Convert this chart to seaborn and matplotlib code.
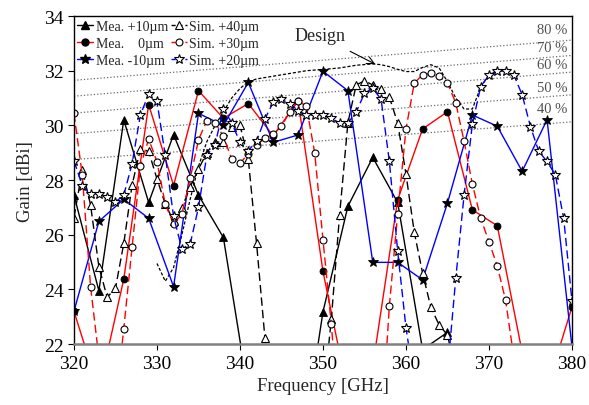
import numpy as np
import pandas as pd
import seaborn as sns
import matplotlib.pyplot as plt

nan = np.nan

# measured, 3 GHz steps
mea_freq = list(range(320, 381, 3))
mea_p10 = [27.45, 23.95, 30.2, 27.18, 29.66, 27.45, 25.9, 20.25, 18.5, 17.2, 23.18,
           27.04, 28.83, 27.18, 21.8, 22.43, nan, nan, nan, nan, nan]
mea_0 = [23.2, 20.3, 24.38, 30.76, 27.8, 31.27, 30.26, 30.8, 29.62, 30.9, 24.66,
         20.2, 21.2, 27.28, 29.87, 30.5, 26.91, 26.33, 21.7, 20.4, 23.36]
mea_m10 = [23.2, 26.49, 27.3, 26.6, 24.1, 30.44, 30.0, 31.57, 29.38, 29.65, 31.98,
           31.27, 24.99, 24.99, 24.35, 27.16, 30.38, 29.97, 28.32, 30.21, 21.9]

# simulated, 1 GHz steps
sim_freq = list(range(320, 381))
sim_p40 = [26.63, 28.37, 27.09, 24.83, 23.71, 24.05, 25.68, 27.82, 29.13, 29.05,
           28.04, 27.12, 26.51, 26.98, 27.75, 28.4, 29.0, 29.4, 29.38, 29.95,
           30.01, 28.77, 25.68, 22.24, 20.5, 19.5, 19.5, 19.5, 19.5, 19.5,
           19.9, 22.9, 26.72, 30.09, 31.48, 31.63, 31.48, 31.33, 31.03, 30.09,
           28.22, 26.09, 24.6, 23.34, 22.7, 22.33, 21.0, nan, nan, nan,
           nan, nan, nan, nan, nan, nan, nan, nan, nan, nan, nan]
sim_p30 = [30.44, 28.18, 24.1, 21.5, 19.5, 19.7, 22.57, 25.54, 28.5, 29.5,
           28.67, 27.12, 26.39, 26.76, 28.06, 29.47, 30.17, 30.1, 29.6, 28.77,
           28.62, 28.95, 29.28, 29.53, 29.68, 29.96, 30.5, 30.9, 30.7, 29.0,
           25.82, 22.73, 19.1, 19.0, 19.0, 19.0, 18.5, 18.7, 23.4, 26.76,
           29.87, 31.55, 31.85, 31.9, 31.8, 31.55, 30.82, 29.42, 27.85, 26.61,
           25.74, 24.86, 23.61, 21.5, nan, nan, nan, nan, nan, nan, nan]
sim_p20 = [28.7, 27.8, 27.5, 27.5, 27.37, 27.2, 27.45, 28.6, 30.38, 31.15,
           30.88, 28.9, 26.67, 25.48, 25.66, 27.0, 28.9, 29.3, 30.6, 30.1,
           29.38, 29.07, 29.44, 30.23, 30.85, 30.95, 30.8, 30.54, 30.38, 30.38,
           30.38, 30.26, 30.09, 30.09, 30.48, 31.18, 31.35, 30.96, 28.68, 25.4,
           22.6, 20.6, 19.5, 19.5, 19.8, 21.0, 24.41, 27.45, 30.05, 31.42,
           31.84, 32.0, 31.98, 31.84, 31.12, 29.95, 29.05, 28.68, 28.19, 26.6,
           23.58]

design_freq = [330, 331, 332, 333, 334, 335, 336, 337, 338, 339, 340, 341, 342, 344,
               346, 348, 350, 352, 354, 356, 357, 358, 359, 360, 361, 362, 363, 364,
               365, 366, 367, 368, 369, 370, 371, 372]
design_gain = [24.95, 24.3, 24.8, 26.0, 27.3, 28.5, 29.4, 30.0, 30.5, 31.0, 31.35, 31.6,
               31.7, 31.8, 31.9, 32.0, 32.05, 32.1, 32.2, 32.25, 32.22, 32.15, 32.05,
               31.97, 31.97, 32.12, 32.22, 32.1, 31.6, 31.0, 30.6, 30.6, 31.4, 31.85,
               32.0, 31.98]

# aperture efficiency reference lines (gain at 320 and 380 GHz)
eff_labels = ['80 %', '70 %', '60 %', '50 %', '40 %']
eff_start = [31.65, 31.07, 30.45, 29.7, 28.75]
eff_end = [33.12, 32.56, 31.95, 31.12, 30.13]
eff_text_y = [33.49, 32.86, 32.21, 31.39, 30.6]

sns.set_style('ticks')
plt.rcParams['font.family'] = ['Liberation Serif', 'DejaVu Serif']

fig = plt.figure(figsize=(5.89, 4.06), dpi=100)
ax = fig.add_axes([0.1256, 0.150, 0.8455, 0.808])

for lab, a, b, ty in zip(eff_labels, eff_start, eff_end, eff_text_y):
    sns.lineplot(x=[320, 380], y=[a, b], color='#6a6a6a', linestyle=':', lw=0.9, ax=ax)
    ax.text(379.5, ty, lab, ha='right', va='center', fontsize=10.5, color='#505050')

sns.lineplot(x=design_freq, y=design_gain, color='black', linestyle=(0, (2.5, 1.5)),
             lw=0.9, ax=ax)

mea_style = [
    (mea_p10, 'black', '^', 5.5, 'Mea. +10µm'),
    (mea_0, 'red', 'o', 5, 'Mea.    0µm'),
    (mea_m10, 'blue', '*', 7, 'Mea. -10µm'),
]
sim_style = [
    (sim_p40, 'black', '^', 5.5, 'Sim. +40µm'),
    (sim_p30, 'red', 'o', 5, 'Sim. +30µm'),
    (sim_p20, 'blue', '*', 7, 'Sim. +20µm'),
]

handles = []
for vals, col, mk, ms, lab in mea_style:
    sns.lineplot(x=mea_freq, y=vals, color=col, lw=1.0, marker=mk, markersize=ms,
                 markerfacecolor='black', markeredgecolor='black', markeredgewidth=0.6,
                 ax=ax)
    handles.append(plt.Line2D([], [], color=col, lw=1.0, marker=mk, markersize=ms,
                              markerfacecolor='black', markeredgecolor='black', label=lab))
for vals, col, mk, ms, lab in sim_style:
    sns.lineplot(x=sim_freq, y=vals, color=col, lw=1.0, linestyle=(0, (6, 3)),
                 marker=mk, markersize=ms, markerfacecolor='white',
                 markeredgecolor='black', markeredgewidth=0.8, ax=ax)
    handles.append(plt.Line2D([], [], color=col, lw=1.0, linestyle=(0, (3, 2)),
                              marker=mk, markersize=ms, markerfacecolor='white',
                              markeredgecolor='black', markeredgewidth=0.8, label=lab))

ax.legend(handles=handles, ncol=2, loc='upper left', bbox_to_anchor=(0.0, 1.0),
          frameon=False, fontsize=10, handlelength=1.15, handletextpad=0.15,
          columnspacing=0.25, labelspacing=0.3, borderaxespad=0.05, borderpad=0.2)

ax.annotate('Design', xy=(356.3, 32.24), xytext=(349.6, 33.28), fontsize=13,
            ha='center', va='center',
            arrowprops=dict(arrowstyle='->', color='black', lw=0.8,
                            shrinkA=6, shrinkB=0))

ax.set_xlim(320, 380)
ax.set_ylim(22, 34)
ax.set_xticks(range(320, 381, 10))
ax.set_yticks(range(22, 35, 2))
ax.tick_params(labelsize=14, direction='out', length=4, width=0.8, colors='black')
ax.set_xlabel('Frequency [GHz]', fontsize=13.5, labelpad=4)
ax.set_ylabel('Gain [dBi]', fontsize=13.5, labelpad=7)
for side in ['left', 'top', 'right']:
    ax.spines[side].set_color('black')
    ax.spines[side].set_linewidth(1.0)
ax.spines['bottom'].set_color('#808080')
ax.spines['bottom'].set_linewidth(1.8)

fig.savefig('out.png', dpi=100)
